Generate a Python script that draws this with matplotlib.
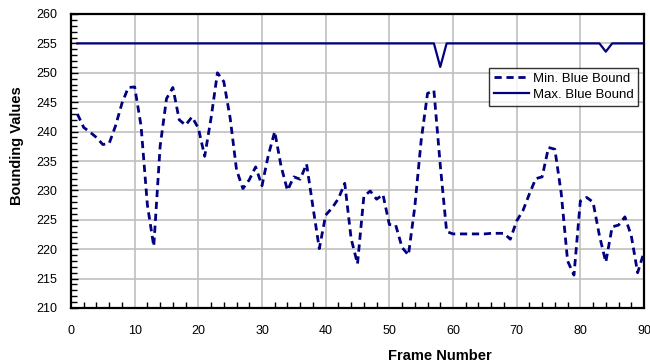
import matplotlib
matplotlib.use("Agg")
import matplotlib.pyplot as plt
from matplotlib.ticker import MultipleLocator

plt.rcParams['font.family'] = ['Liberation Sans', 'DejaVu Sans']

frames = list(range(1, 91))
min_blue = [243.0, 240.7, 239.9, 239.0, 237.8, 238.0, 241.0, 244.8, 247.5, 247.6,
            241.0, 227.5, 220.5, 237.5, 245.6, 247.5, 242.0, 241.1, 242.5, 240.6,
            235.8, 242.3, 250.0, 248.5, 242.3, 233.5, 230.3, 231.8, 234.0, 230.8,
            236.0, 240.0, 234.1, 230.0, 232.3, 231.9, 234.5, 227.2, 220.1, 225.8,
            227.0, 228.6, 231.2, 221.8, 217.5, 229.0, 229.9, 228.5, 229.3, 224.2,
            224.1, 220.3, 219.0, 227.2, 238.5, 246.5, 247.0, 234.3, 223.0, 222.6,
            222.6, 222.6, 222.6, 222.6, 222.6, 222.7, 222.7, 222.7, 221.7, 224.8,
            226.6, 229.4, 232.0, 232.3, 237.3, 237.0, 229.5, 218.0, 215.6, 228.2,
            228.8, 228.0, 222.3, 217.8, 223.8, 224.1, 225.5, 222.3, 216.0, 219.5]
max_blue = [255.0] * 57 + [251.0] + [255.0] * 25 + [253.6] + [255.0] * 6

x_ticks = list(range(0, 91, 10))
y_ticks = list(range(210, 261, 5))

navy = '#000080'

fig = plt.figure(figsize=(6.5, 3.64), dpi=100)
ax = fig.add_axes([71/650, 1-308/364, (644-71)/650, (308-14)/364])

ax.plot(frames, min_blue, color=navy, lw=2.0, linestyle=(0, (2.6, 1.7)),
        label='Min. Blue Bound', dash_capstyle='butt')
ax.plot(frames, max_blue, color=navy, lw=1.6, label='Max. Blue Bound')

ax.set_xlim(0, 90)
ax.set_ylim(210, 260)
ax.set_xticks(x_ticks)
ax.set_yticks(y_ticks)
ax.xaxis.set_minor_locator(MultipleLocator(2))
ax.yaxis.set_minor_locator(MultipleLocator(1))
ax.grid(True, which='major', color='#c0c0c0', lw=1.2)
ax.set_axisbelow(True)

ax.tick_params(axis='both', which='both', direction='in', color='black', width=1.0)
ax.tick_params(axis='y', which='major', length=5, labelsize=9, pad=10, right=False)
ax.tick_params(axis='y', which='minor', length=4, right=False)
ax.tick_params(axis='x', which='major', length=0, labelsize=9, pad=12, top=False)
ax.tick_params(axis='x', which='minor', length=4, top=False)

for s in ax.spines.values():
    s.set_linewidth(1.6)
    s.set_color('black')

fig.text(17/650, 1-146/364, 'Bounding Values', rotation=90, ha='center', va='center',
         fontsize=10.5, fontweight='bold')
fig.text(440/650, 1-356/364, 'Frame Number', ha='center', va='center',
         fontsize=10.5, fontweight='bold')

leg = ax.legend(loc='upper left', bbox_to_anchor=((489-71)/573, (308-68)/294),
                fontsize=9.5, frameon=True, fancybox=False, edgecolor='black',
                handlelength=2.7, borderpad=0.35, labelspacing=0.3,
                handletextpad=0.25, borderaxespad=0)
leg.get_frame().set_linewidth(1.0)

fig.savefig('out.png', dpi=100, facecolor='white')
